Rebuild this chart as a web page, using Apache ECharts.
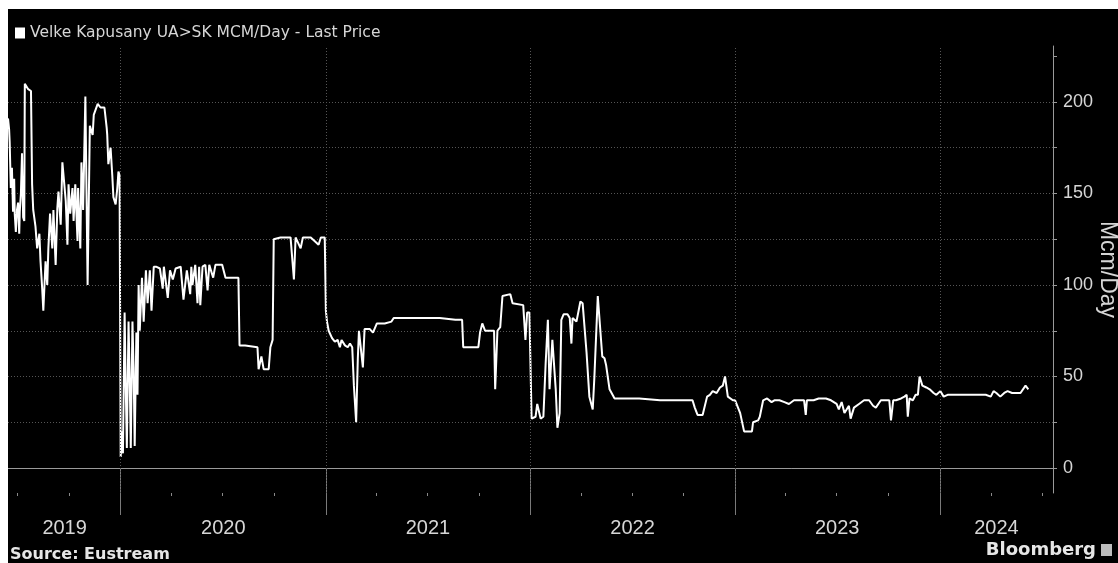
<!DOCTYPE html>
<html><head><meta charset="utf-8">
<script src="https://cdn.jsdelivr.net/npm/echarts@6/dist/echarts.min.js"></script>
<style>
html,body{margin:0;padding:0;background:#fff;width:1118px;height:563px;overflow:hidden;}
#chart{position:absolute;left:8px;top:9px;width:1110px;height:554px;background:#000;}
</style></head><body><div id="chart"></div>
<script>
// ---- data (Velke Kapusany UA>SK, MCM/Day) ----
const dates2019 = ['2019-06-14','2019-06-16','2019-06-17','2019-06-19','2019-06-21','2019-06-23','2019-06-25','2019-06-26','2019-06-28','2019-06-30','2019-07-02','2019-07-04','2019-07-05','2019-07-07','2019-07-09','2019-07-11','2019-07-13','2019-07-14','2019-07-20','2019-07-25','2019-07-27','2019-07-29','2019-08-02','2019-08-05','2019-08-09','2019-08-11','2019-08-14','2019-08-16','2019-08-20','2019-08-23','2019-08-25','2019-08-28','2019-09-01','2019-09-03','2019-09-07','2019-09-10','2019-09-12','2019-09-16','2019-09-19','2019-09-21','2019-09-25','2019-09-28','2019-09-30','2019-10-03','2019-10-07','2019-10-09','2019-10-12','2019-10-16','2019-10-17','2019-10-21','2019-10-23','2019-10-26','2019-10-30','2019-11-03','2019-11-07','2019-11-12','2019-11-14','2019-11-21','2019-11-26','2019-12-03','2019-12-07','2019-12-08','2019-12-10','2019-12-14','2019-12-17','2019-12-19','2019-12-23','2019-12-26','2019-12-28','2019-12-30'];
const values2019 = [191,185,178,153,164,140,158,139,129,141,145,128,140,150,172,137,135,210,207,206,155,141,132,120,128,113,98,86,113,100,120,139,120,141,111,142,151,133,167,166,146,122,155,139,153,135,155,124,153,120,167,141,203,100,187,182,193,199,197,197,186,182,166,175,160,148,144,153,162,160];

const dates2020 = ['2020-01-01','2020-01-03','2020-01-05','2020-01-08','2020-01-10','2020-01-12','2020-01-15','2020-01-17','2020-01-19','2020-01-22','2020-01-24','2020-01-26','2020-01-29','2020-01-31','2020-02-02','2020-02-04','2020-02-08','2020-02-11','2020-02-15','2020-02-18','2020-02-22','2020-02-25','2020-02-29','2020-03-04','2020-03-11','2020-03-16','2020-03-18','2020-03-25','2020-03-29','2020-04-03','2020-04-08','2020-04-17','2020-04-22','2020-04-28','2020-05-04','2020-05-06','2020-05-08','2020-05-13','2020-05-17','2020-05-20','2020-05-22','2020-05-26','2020-05-31','2020-06-04','2020-06-07','2020-06-14','2020-06-18','2020-06-30','2020-07-06','2020-07-29','2020-07-31','2020-08-10','2020-09-01','2020-09-03','2020-09-08','2020-09-12','2020-09-21','2020-09-24','2020-09-28','2020-09-30','2020-10-12','2020-10-30','2020-11-05','2020-11-08','2020-11-17','2020-11-21','2020-12-05','2020-12-19','2020-12-23','2020-12-30'];
const values2020 = [6,20,8,85,45,11,80,50,11,80,55,12,74,40,100,75,104,80,108,90,108,86,110,110,109,98,110,93,108,103,109,110,92,108,95,110,100,111,90,110,89,110,111,97,111,104,111,111,104,104,67,67,66,54,61,54,54,66,70,125,126,126,103,126,120,126,126,122,126,126];

const dates2021 = ['2021-01-01','2021-01-03','2021-01-06','2021-01-12','2021-01-17','2021-01-22','2021-01-26','2021-01-29','2021-02-04','2021-02-09','2021-02-13','2021-02-17','2021-02-20','2021-02-24','2021-02-27','2021-03-01','2021-03-04','2021-03-08','2021-03-11','2021-03-20','2021-03-26','2021-04-02','2021-04-16','2021-04-28','2021-05-02','2021-06-18','2021-07-23','2021-08-20','2021-09-01','2021-09-03','2021-09-30','2021-10-03','2021-10-07','2021-10-12','2021-10-28','2021-10-30','2021-11-03','2021-11-08','2021-11-12','2021-11-26','2021-11-30','2021-12-19','2021-12-23','2021-12-26','2021-12-30'];
const values2021 = [86,80,75,71,69,70,66,70,67,66,68,66,45,25,60,75,76,55,76,76,74,79,79,80,82,82,82,81,81,66,66,74,79,75,75,43,75,77,94,95,90,89,70,85,85];

const dates2022 = ['2022-01-03','2022-01-10','2022-01-13','2022-01-19','2022-01-24','2022-01-28','2022-02-01','2022-02-04','2022-02-09','2022-02-15','2022-02-18','2022-02-22','2022-02-25','2022-03-01','2022-03-08','2022-03-12','2022-03-15','2022-03-17','2022-03-24','2022-03-31','2022-04-04','2022-04-11','2022-04-16','2022-04-22','2022-04-25','2022-05-01','2022-05-04','2022-05-09','2022-05-13','2022-05-16','2022-05-22','2022-05-31','2022-07-14','2022-08-20','2022-09-24','2022-10-17','2022-10-21','2022-10-26','2022-11-04','2022-11-12','2022-11-17','2022-11-22','2022-11-29','2022-12-05','2022-12-10','2022-12-14','2022-12-19','2022-12-28'];
const values2022 = [27,28,35,27,28,57,81,43,70,43,22,30,81,84,84,82,68,82,80,91,90,63,39,32,50,94,94,61,60,56,43,38,38,37,37,37,33,29,29,39,40,42,41,44,45,50,39,37];

const dates2023 = ['2023-01-01','2023-01-10','2023-01-17','2023-01-31','2023-02-02','2023-02-11','2023-02-14','2023-02-20','2023-02-27','2023-03-07','2023-03-12','2023-03-21','2023-03-30','2023-04-07','2023-04-16','2023-04-25','2023-05-04','2023-05-07','2023-05-09','2023-05-21','2023-05-30','2023-06-12','2023-06-21','2023-07-01','2023-07-05','2023-07-10','2023-07-15','2023-07-23','2023-07-26','2023-08-01','2023-08-10','2023-08-19','2023-08-28','2023-09-04','2023-09-09','2023-09-18','2023-09-27','2023-10-03','2023-10-06','2023-10-10','2023-10-15','2023-10-24','2023-10-30','2023-11-03','2023-11-05','2023-11-08','2023-11-14','2023-11-19','2023-11-23','2023-11-26','2023-12-01','2023-12-08','2023-12-14','2023-12-21','2023-12-26'];
const values2023 = [37,30,20,20,25,26,28,37,38,36,37,37,36,35,37,37,37,29,37,37,38,38,37,35,32,36,30,34,27,33,35,37,37,34,33,37,37,37,26,37,37,38,39,40,28,38,37,40,40,50,45,44,43,41,40];

const dates2024 = ['2024-01-02','2024-01-08','2024-01-15','2024-01-29','2024-02-16','2024-03-05','2024-03-23','2024-04-01','2024-04-06','2024-04-11','2024-04-18','2024-04-25','2024-05-01','2024-05-09','2024-05-16','2024-05-24','2024-06-02','2024-06-07'];
const values2024 = [42,39,40,40,40,40,40,39,42,41,39,41,42,41,41,41,45,43];

// ---- axes ----
const xMin = '2019-06-14';
const xMax = '2024-07-21';
const yearBoundaries = ['2020-01-01','2021-01-01','2022-01-01','2023-01-01','2024-01-01'];
const quarterTicks = ['2019-07-01','2019-10-01','2020-04-01','2020-07-01','2020-10-01','2021-04-01','2021-07-01','2021-10-01','2022-04-01','2022-07-01','2022-10-01','2023-04-01','2023-07-01','2023-10-01','2024-04-01','2024-07-01'];
const yearLabelDates = ['2019-09-23','2020-07-02','2021-07-02','2022-07-02','2023-07-02','2024-04-11'];
const yearLabels = ['2019','2020','2021','2022','2023','2024'];
const yLabelValues = [0,50,100,150,200];
const yTickValues = [0,25,50,75,100,125,150,175,200,225];
const yMin = -13.66, yMax = 230.6;
const titleText = 'Velke Kapusany UA>SK MCM/Day - Last Price';
const yAxisName = 'Mcm/Day';
const sourceText = 'Source: Eustream';

const ts = s => echarts.time.parse(s).getTime();
const allDates = [].concat(dates2019, dates2020, dates2021, dates2022, dates2023, dates2024);
const allValues = [].concat(values2019, values2020, values2021, values2022, values2023, values2024);
const seriesData = allDates.map((d, i) => [ts(d), allValues[i]]);
const labelTs = yearLabelDates.map(ts);
const boundaryTs = yearBoundaries.map(ts);

const txt = '#d6d6d6';
const gridCol = '#555555';
const axisCol = '#9a9a9a';
const sans = '"Liberation Sans", Arial, sans-serif';

const chart = echarts.init(document.getElementById('chart'), null, {renderer: 'canvas'});
chart.setOption({
  backgroundColor: '#000',
  animation: false,
  legend: {
    show: true, left: 2, top: 11, icon: 'rect', itemWidth: 10, itemHeight: 11,
    textStyle: {color: txt, fontSize: 15.5, fontFamily: '"DejaVu Sans", sans-serif'},
    data: [{name: titleText, itemStyle: {color: '#ffffff'}}]
  },
  grid: {left: 0, right: 65, top: 37, bottom: 70, containLabel: false, outerBoundsMode: 'none'},
  xAxis: [{
    type: 'value', min: ts(xMin), max: ts(xMax),
    axisLine: {show: true, lineStyle: {color: axisCol, width: 1}},
    axisTick: {show: true, customValues: boundaryTs, length: 47, lineStyle: {color: '#7a7a7a', width: 1}},
    axisLabel: {show: true, customValues: labelTs, color: txt, fontSize: 20, fontFamily: sans, margin: 25,
      formatter: v => { const i = labelTs.indexOf(v); return i >= 0 ? yearLabels[i] : ''; }},
    splitLine: {show: false}
  }, {
    type: 'value', min: ts(xMin), max: ts(xMax), position: 'bottom',
    axisLine: {show: false},
    axisTick: {show: true, customValues: quarterTicks.map(ts), length: 3, lineStyle: {color: '#8a8a8a', width: 1}},
    axisLabel: {show: false},
    splitLine: {show: false}
  }],
  yAxis: {
    type: 'value', position: 'right', min: yMin, max: yMax,
    name: yAxisName, nameLocation: 'middle', nameRotate: -90, nameGap: 43, nameMoveOverlap: false,
    nameTextStyle: {color: txt, fontSize: 23, fontFamily: sans},
    axisLine: {show: true, lineStyle: {color: axisCol, width: 1}},
    axisTick: {show: true, customValues: yTickValues, length: 4, lineStyle: {color: axisCol}},
    axisLabel: {show: true, customValues: yLabelValues, color: txt, fontSize: 18, fontFamily: sans, margin: 10},
    splitLine: {show: true, showMinLine: false, showMaxLine: false, lineStyle: {color: gridCol, type: [1, 2], width: 1}}
  },
  series: [{
    name: titleText, type: 'line', data: seriesData, showSymbol: false, clip: true,
    lineStyle: {color: '#ffffff', width: 2}, itemStyle: {color: '#ffffff'},
    markLine: {
      silent: true, symbol: 'none', label: {show: false},
      lineStyle: {color: gridCol, type: [1, 2], width: 1},
      data: boundaryTs.map(v => ({xAxis: v}))
    }
  }],
  graphic: [
    {type: 'text', left: 2, top: 538, style: {text: sourceText, fill: '#e6e6e6', font: 'bold 16px "DejaVu Sans", sans-serif'}},
    {type: 'text', right: 22, top: 532, style: {text: 'Bloomberg', fill: '#e6e6e6', font: 'bold 18px "DejaVu Sans", sans-serif'}},
    {type: 'rect', right: 6, top: 535, shape: {width: 11, height: 12}, style: {fill: '#bdbdbd'}}
  ]
});
</script></body></html>
